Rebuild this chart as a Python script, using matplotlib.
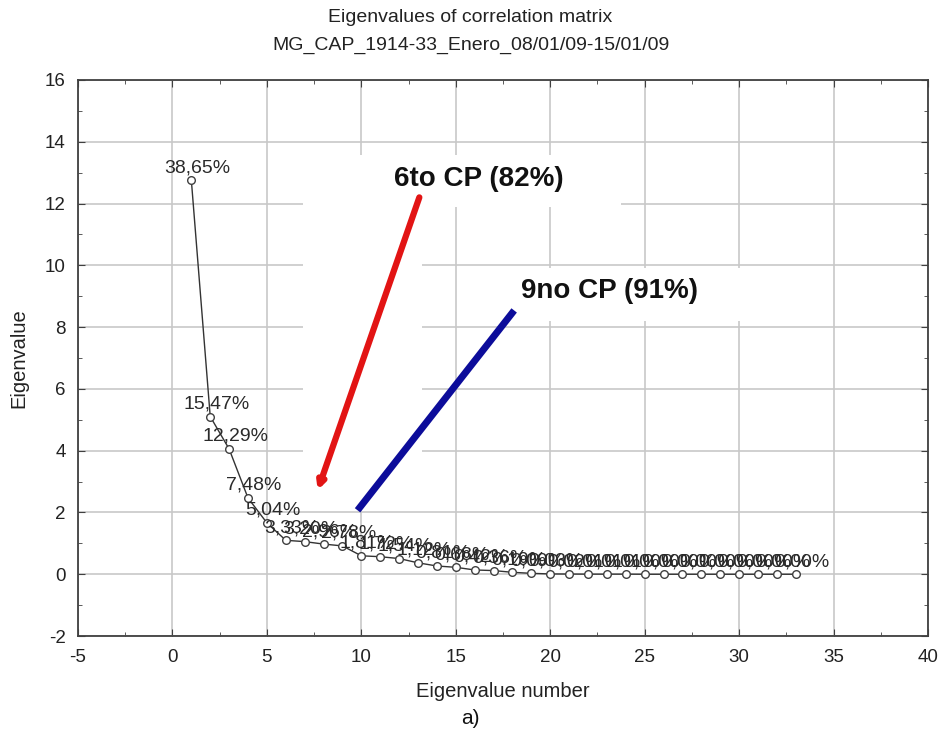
import matplotlib
matplotlib.use("Agg")
import matplotlib.pyplot as plt
from matplotlib.patches import Rectangle
from matplotlib.ticker import MultipleLocator

plt.rcParams['font.family'] = ['Liberation Sans', 'DejaVu Sans']
plt.rcParams['axes.unicode_minus'] = False

# ---- data ----
eig_number = list(range(1, 34))
pct_variance = [38.65, 15.47, 12.29, 7.48, 5.04, 3.33, 3.20, 2.96, 2.78,
                1.81, 1.72, 1.54, 1.12, 0.81, 0.68, 0.42, 0.36, 0.19, 0.09,
                0.03, 0.02, 0.01, 0.01, 0.01, 0.00, 0.00, 0.00, 0.00, 0.00,
                0.00, 0.00, 0.00, 0.00]
n_vars = 33
eigenvalues = [p * n_vars / 100.0 for p in pct_variance]
pct_labels = [("%.2f%%" % p).replace('.', ',') for p in pct_variance]

title_lines = ["Eigenvalues of correlation matrix",
               "MG_CAP_1914-33_Enero_08/01/09-15/01/09"]
note_6 = "6to CP (82%)"
note_9 = "9no CP (91%)"

fig = plt.figure(figsize=(9.41, 7.4), dpi=100)
ax = fig.add_axes([0.0829, 0.1405, 0.9033, 0.7514])
ax.set_xlim(-5, 40)
ax.set_ylim(-2, 16)
ax.xaxis.set_major_locator(MultipleLocator(5))
ax.yaxis.set_major_locator(MultipleLocator(2))
ax.xaxis.set_minor_locator(MultipleLocator(2.5))
ax.yaxis.set_minor_locator(MultipleLocator(1))
ax.tick_params(which='both', direction='in', top=True, right=True,
               colors='#404040', labelcolor='#222222', labelsize=13.5)
ax.tick_params(which='major', length=5, pad=9)
ax.tick_params(which='minor', length=3)
ax.set_axisbelow(True)
ax.grid(True, which='major', color='#c8c8c8', lw=1.2)
for s in ax.spines.values():
    s.set_color('#404040')
    s.set_linewidth(1.3)

# white boxes of the pasted overlay objects
for (x0, y0, x1, y1) in [(6.9, 2.25, 13.23, 13.56),
                         (6.9, 11.9, 23.75, 13.56),
                         (18.1, 8.2, 30.3, 9.9)]:
    ax.add_patch(Rectangle((x0, y0), x1 - x0, y1 - y0, facecolor='white',
                           edgecolor='none', zorder=1))

ax.plot(eig_number, eigenvalues, color='#333333', lw=1.0, marker='o',
        markersize=5.5, markerfacecolor='white', markeredgecolor='#404040',
        markeredgewidth=1.0, zorder=2)
for xv, yv, lab in zip(eig_number, eigenvalues, pct_labels):
    ax.annotate(lab, (xv, yv), xytext=(6, 8), textcoords='offset pixels',
                ha='center', va='baseline', fontsize=14, color='#2a2a2a',
                zorder=3)

# arrows
ax.annotate('', xy=(7.69, 2.72), xytext=(13.07, 12.2),
            arrowprops=dict(arrowstyle='-|>', color='#e21414', lw=4.5,
                            mutation_scale=10, shrinkA=0, shrinkB=0),
            zorder=4)
ax.plot([18.09, 9.8], [8.54, 2.07], color='#0c0c9a', lw=5, zorder=4,
        solid_capstyle='butt')
ax.text(11.75, 12.8, note_6, fontsize=20, fontweight='bold', color='#111111',
        ha='left', va='center', zorder=5)
ax.text(18.46, 9.16, note_9, fontsize=20, fontweight='bold', color='#111111',
        ha='left', va='center', zorder=5)

ax.set_xlabel("Eigenvalue number", fontsize=14.5, color='#222222', labelpad=12)
ax.set_ylabel("Eigenvalue", fontsize=14.5, color='#222222', labelpad=12)
fig.text(0.5, 1 - 18 / 740, title_lines[0], ha='center', va='center',
         fontsize=14, color='#222222')
fig.text(0.5, 1 - 45 / 740, title_lines[1], ha='center', va='center',
         fontsize=14, color='#222222')
fig.text(0.5, 1 - 718 / 740, "a)", ha='center', va='center', fontsize=15,
         color='#111111')

fig.savefig("out.png", dpi=100, facecolor='white')
